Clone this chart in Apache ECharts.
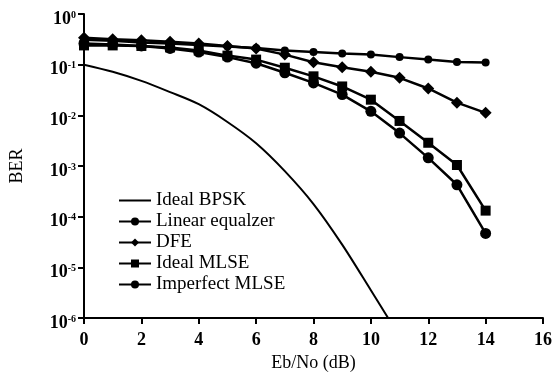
<!DOCTYPE html>
<html>
<head>
<meta charset="utf-8">
<script src="https://cdn.jsdelivr.net/npm/echarts@6/dist/echarts.min.js"></script>
<style>
html,body{margin:0;padding:0;background:#fff;}
#chart{width:555px;height:377px;}
</style>
</head>
<body>
<div id="chart"></div>
<script>
// ---- data ----
const seriesNames = ['Ideal BPSK', 'Linear equalzer', 'DFE', 'Ideal MLSE', 'Imperfect MLSE'];
const snrPoints = [0, 1, 2, 3, 4, 5, 6, 7, 8, 9, 10, 11, 12, 13, 14];
const bpskSnr = [0, 1, 2, 3, 4, 5, 6, 7, 8, 9, 10, 10.6];
const bpskBer = [0.1, 0.0724, 0.0479, 0.0288, 0.0166, 0.00741, 0.00282, 0.000794, 0.000178, 2.82e-5, 3.55e-6, 1.0e-6];
const linearBer = [0.309, 0.295, 0.275, 0.263, 0.245, 0.229, 0.214, 0.19, 0.178, 0.166, 0.158, 0.141, 0.126, 0.1135, 0.111];
const dfeBer = [0.339, 0.316, 0.302, 0.282, 0.263, 0.234, 0.209, 0.158, 0.112, 0.0891, 0.0724, 0.055, 0.0339, 0.0178, 0.0112];
const idealMlseBer = [0.24, 0.24, 0.234, 0.219, 0.19, 0.151, 0.126, 0.0871, 0.0589, 0.0372, 0.0204, 0.00776, 0.00288, 0.00105, 0.000132];
const imperfectMlseBer = [0.263, 0.251, 0.234, 0.209, 0.178, 0.141, 0.107, 0.0692, 0.0437, 0.0257, 0.012, 0.00447, 0.00145, 0.000427, 0.0000468];
const xTicks = [0, 2, 4, 6, 8, 10, 12, 14, 16];
const yTickExponents = [0, -1, -2, -3, -4, -5, -6];

const pairs = (xs, ys) => xs.map((x, i) => [x, ys[i]]);
const FONT = 'Liberation Serif';
const lineStyle = { color: '#000', width: 2.5 };

const legendData = seriesNames.map((n, i) =>
  i === 0 ? { name: n, itemStyle: { opacity: 0 } } : { name: n });

const chart = echarts.init(document.getElementById('chart'), null, { renderer: 'canvas' });
chart.setOption({
  animation: false,
  backgroundColor: '#fff',
  textStyle: { fontFamily: FONT, color: '#000' },
  grid: { left: 84, right: 8, top: 14, bottom: 57, containLabel: false },
  legend: {
    orient: 'vertical',
    left: 118,
    top: 191,
    padding: 0,
    itemWidth: 32,
    itemHeight: 10,
    itemGap: 2,
    textStyle: { fontFamily: FONT, fontSize: 19, color: '#000' },
    data: legendData
  },
  xAxis: {
    type: 'value',
    min: xTicks[0],
    max: xTicks[xTicks.length - 1],
    interval: 2,
    name: 'Eb/No (dB)',
    nameLocation: 'middle',
    nameGap: 32,
    nameTextStyle: { fontFamily: FONT, fontSize: 18, color: '#000' },
    axisLine: { lineStyle: { color: '#000', width: 2 } },
    axisTick: { inside: false, length: 6, lineStyle: { color: '#000', width: 2 } },
    axisLabel: { fontFamily: FONT, fontSize: 18, fontWeight: 'bold', color: '#000', margin: 13 },
    splitLine: { show: false }
  },
  yAxis: {
    type: 'log',
    logBase: 10,
    min: Math.pow(10, yTickExponents[yTickExponents.length - 1]),
    max: Math.pow(10, yTickExponents[0]),
    name: 'BER',
    nameLocation: 'middle',
    nameGap: 58,
    nameTextStyle: { fontFamily: FONT, fontSize: 18, color: '#000' },
    axisLine: { show: true, lineStyle: { color: '#000', width: 2 } },
    axisTick: { show: true, length: 6, lineStyle: { color: '#000', width: 2 } },
    axisLabel: {
      margin: 8,
      padding: [10, 0, 0, 0],
      formatter: function (v) {
        const e = Math.round(Math.log10(v));
        return '{b|10}{s|' + e + '}';
      },
      rich: {
        b: { fontFamily: FONT, fontSize: 18, fontWeight: 'bold', color: '#000' },
        s: { fontFamily: FONT, fontSize: 10, fontWeight: 'bold', color: '#000', verticalAlign: 'top' }
      }
    },
    splitLine: { show: false },
    minorTick: { show: false }
  },
  series: [
    {
      name: seriesNames[0], type: 'line', smooth: 0.3, symbol: 'none',
      lineStyle: { color: '#000', width: 2 }, itemStyle: { color: '#000' },
      data: pairs(bpskSnr, bpskBer)
    },
    {
      name: seriesNames[1], type: 'line', symbol: 'circle', symbolSize: 8,
      lineStyle: lineStyle, itemStyle: { color: '#000' },
      data: pairs(snrPoints, linearBer)
    },
    {
      name: seriesNames[2], type: 'line', symbol: 'diamond', symbolSize: 12,
      lineStyle: lineStyle, itemStyle: { color: '#000' },
      data: pairs(snrPoints, dfeBer)
    },
    {
      name: seriesNames[3], type: 'line', symbol: 'rect', symbolSize: 10,
      lineStyle: lineStyle, itemStyle: { color: '#000' },
      data: pairs(snrPoints, idealMlseBer)
    },
    {
      name: seriesNames[4], type: 'line', symbol: 'circle', symbolSize: 11,
      lineStyle: lineStyle, itemStyle: { color: '#000' },
      data: pairs(snrPoints, imperfectMlseBer)
    }
  ]
});
</script>
</body>
</html>
